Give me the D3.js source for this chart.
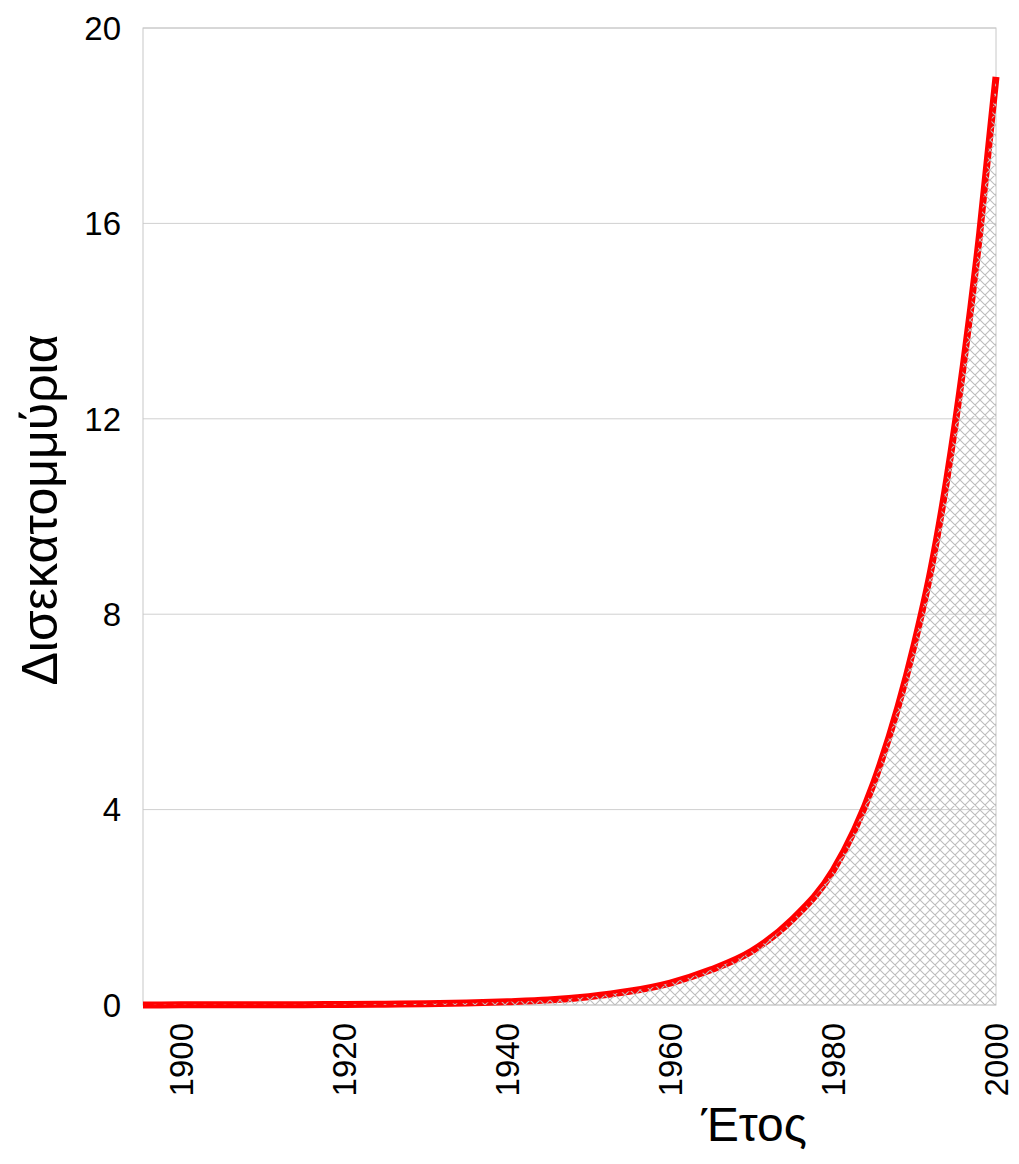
<!DOCTYPE html>
<html>
<head>
<meta charset="utf-8">
<script src="https://cdn.jsdelivr.net/npm/d3@7"></script>
<style>
  body { margin: 0; background: #fff; }
  text { font-family: "Liberation Sans", Arial, sans-serif; fill: #000; }
</style>
</head>
<body>
<svg id="chart" width="1019" height="1164"></svg>
<script>
// data (billions)
const years  = [1895, 1900, 1905, 1910, 1915, 1920, 1925, 1930, 1935, 1940, 1945, 1950, 1955, 1960, 1965, 1970, 1975, 1980, 1985, 1990, 1992, 1994, 1996, 1998, 2000];
const values = [0.002, 0.003, 0.004, 0.005, 0.007, 0.01, 0.016, 0.025, 0.04, 0.065, 0.1, 0.17, 0.28, 0.45, 0.72, 1.1, 1.75, 2.75, 4.55, 7.4, 8.9, 10.8, 13.1, 15.8, 19.0];
const xTicks = [1900, 1920, 1940, 1960, 1980, 2000];
const yTicks = [0, 4, 8, 12, 16, 20];

const data = years.map((y, i) => ({ year: y, value: values[i] }));

const svg = d3.select("#chart");
const plotL = 143, plotR = 996, plotT = 28, plotB = 1005;

const x = d3.scaleLinear().domain([1895.3, 2000]).range([plotL, plotR]);
const y = d3.scaleLinear().domain([0, 20]).range([plotB, plotT]);

// hatch pattern
const defs = svg.append("defs");
const pat = defs.append("pattern")
  .attr("id", "hatch")
  .attr("patternUnits", "userSpaceOnUse")
  .attr("width", 10).attr("height", 10);
pat.append("path")
  .attr("d", "M0,0 L10,10 M10,0 L0,10 M-1,9 L1,11 M9,-1 L11,1 M-1,1 L1,-1 M9,11 L11,9")
  .attr("stroke", "#bdbdbd")
  .attr("stroke-width", 1.1)
  .attr("fill", "none");

// gridlines
svg.append("g")
  .selectAll("line")
  .data(yTicks)
  .join("line")
  .attr("x1", plotL).attr("x2", plotR)
  .attr("y1", d => y(d)).attr("y2", d => y(d))
  .attr("stroke", "#d0d0d0")
  .attr("stroke-width", 1);

// frame
svg.append("rect")
  .attr("x", plotL).attr("y", plotT)
  .attr("width", plotR - plotL).attr("height", plotB - plotT)
  .attr("fill", "none")
  .attr("stroke", "#c8c8c8")
  .attr("stroke-width", 1);

const clip = defs.append("clipPath").attr("id", "plotClip");
clip.append("rect").attr("x", plotL).attr("y", plotT - 10)
  .attr("width", plotR - plotL + 4).attr("height", plotB - plotT + 14);

const plot = svg.append("g").attr("clip-path", "url(#plotClip)");

// red line
plot.append("path")
  .datum(data)
  .attr("fill", "none")
  .attr("stroke", "#ff0000")
  .attr("stroke-width", 7)
  .attr("d", d3.line().x(d => x(d.year)).y(d => y(d.value)).curve(d3.curveMonotoneX));

// hatched area on top
plot.append("path")
  .datum(data)
  .attr("fill", "url(#hatch)")
  .attr("d", d3.area().x(d => x(d.year)).y0(y(0)).y1(d => y(d.value)).curve(d3.curveMonotoneX));

// y tick labels
svg.append("g")
  .selectAll("text")
  .data(yTicks)
  .join("text")
  .attr("x", 121)
  .attr("y", d => y(d))
  .attr("dy", "0.36em")
  .attr("text-anchor", "end")
  .attr("font-size", 33)
  .text(d => d);

// x tick labels (rotated)
svg.append("g")
  .selectAll("text")
  .data(xTicks)
  .join("text")
  .attr("transform", d => `translate(${x(d)},1023) rotate(-90)`)
  .attr("dy", "0.36em")
  .attr("text-anchor", "end")
  .attr("font-size", 33)
  .text(d => d);

// axis titles
svg.append("text")
  .attr("transform", "translate(57,510) rotate(-90)")
  .attr("text-anchor", "middle")
  .attr("font-size", 50)
  .text("Δισεκατομμύρια");

svg.append("text")
  .attr("x", 754)
  .attr("y", 1141)
  .attr("text-anchor", "middle")
  .attr("font-size", 48)
  .text("Έτος");
</script>
</body>
</html>
